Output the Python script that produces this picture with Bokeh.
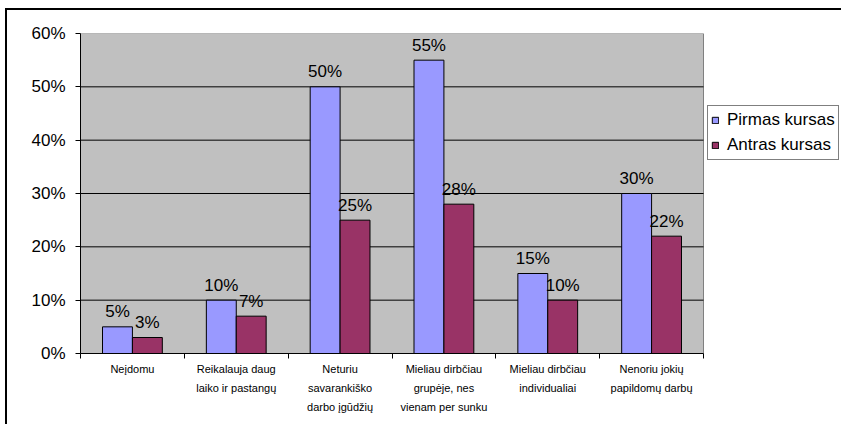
from bokeh.plotting import figure
from bokeh.models import (Range1d, FixedTicker, PrintfTickFormatter, Legend, LegendItem,
                          ColumnDataSource)
from bokeh.core.properties import value
from bokeh.embed import file_html
from bokeh.resources import INLINE

categories = [
    "Neįdomu",
    "Reikalauja daug\nlaiko ir pastangų",
    "Neturiu\nsavarankiško\ndarbo įgūdžių",
    "Mieliau dirbčiau\ngrupėje, nes\nvienam per sunku",
    "Mieliau dirbčiau\nindividualiai",
    "Nenoriu jokių\npapildomų darbų",
]
pirmas = [5, 10, 50, 55, 15, 30]
antras = [3, 7, 25, 28, 10, 22]
series_names = ["Pirmas kursas", "Antras kursas"]
y_ticks = [0, 10, 20, 30, 40, 50, 60]

FONT = "Liberation Sans"
BLUE = "#9999FF"
MAROON = "#993366"
GRAY = "#C0C0C0"
BAR_W = 0.288

W, H = 841, 424
LEFT, TOP, BOTTOM = 80, 33, 71
PLOT_W = 623  # pixel width of the gray plot area

n = len(categories)
idx = list(range(n))
y0, y1 = y_ticks[0], y_ticks[-1]
src1 = ColumnDataSource(dict(x=[i + 0.5 - BAR_W / 2 for i in idx], top=pirmas,
                             lab=[f"{v}%" for v in pirmas]))
src2 = ColumnDataSource(dict(x=[i + 0.5 + BAR_W / 2 for i in idx], top=antras,
                             lab=[f"{v}%" for v in antras]))

# the frame extends to the right edge so that the legend is not clipped
x_max = n * (W - LEFT) / PLOT_W
p = figure(width=W, height=H, output_backend="svg", toolbar_location=None,
           x_range=Range1d(0, x_max), y_range=Range1d(y0, y1),
           min_border_left=LEFT, min_border_right=0, min_border_top=TOP,
           min_border_bottom=BOTTOM)

p.background_fill_color = None
p.background_fill_alpha = 0
p.border_fill_color = None
p.border_fill_alpha = 0
p.outline_line_color = None
# page background with the outer chart border (left and top edges visible)
p.styles = {
    "background-color": "white",
    "background-image": "linear-gradient(black, black), linear-gradient(black, black)",
    "background-size": "2px 100%, 100% 2px",
    "background-position": "5px 8px, 5px 8px",
    "background-repeat": "no-repeat",
}

# gray plot area
p.quad(left=[0], right=[n], bottom=[y0], top=[y1], fill_color=GRAY,
       line_color="#808080", line_width=1, level="image")

# grid
p.xgrid.grid_line_color = None
p.ygrid.grid_line_color = None
inner = y_ticks[1:-1]
p.segment(x0=[0] * len(inner), x1=[n] * len(inner), y0=inner, y1=inner,
          line_color="black", line_width=1, level="underlay")

# y axis
p.yaxis.ticker = FixedTicker(ticks=y_ticks)
p.yaxis.formatter = PrintfTickFormatter(format="%d%%")
p.yaxis.axis_line_color = "black"
p.yaxis.major_tick_line_color = "black"
p.yaxis.major_tick_out = 5
p.yaxis.major_tick_in = 0
p.yaxis.minor_tick_line_color = None
p.yaxis.major_label_standoff = 10
p.yaxis.major_label_text_font = FONT
p.yaxis.major_label_text_font_size = "17px"
p.yaxis.major_label_text_color = "black"

# x axis
centers = [i + 0.5 for i in idx]
p.xaxis.bounds = (0, n)
p.xaxis.ticker = FixedTicker(ticks=centers, minor_ticks=list(range(n + 1)))
p.xaxis.major_label_overrides = {c: lab for c, lab in zip(centers, categories)}
p.xaxis.axis_line_color = "black"
p.xaxis.major_tick_line_color = None
p.xaxis.major_tick_out = 0
p.xaxis.major_tick_in = 0
p.xaxis.minor_tick_line_color = "black"
p.xaxis.minor_tick_out = 5
p.xaxis.minor_tick_in = 0
p.xaxis.major_label_standoff = 4
p.xaxis.major_label_text_font = FONT
p.xaxis.major_label_text_font_size = "11px"
p.xaxis.major_label_text_color = "black"
p.xaxis.major_label_text_line_height = 1.6

r1 = p.vbar(x="x", top="top", width=BAR_W, source=src1, fill_color=BLUE,
            line_color="black", line_width=1)
r2 = p.vbar(x="x", top="top", width=BAR_W, source=src2, fill_color=MAROON,
            line_color="black", line_width=1)

for s in (src1, src2):
    p.text(x="x", y="top", text="lab", source=s, text_align="center",
           text_baseline="alphabetic", y_offset=-15, text_font=value(FONT),
           text_font_size="17px", text_color="black")

legend = Legend(items=[LegendItem(label=series_names[0], renderers=[r1]),
                       LegendItem(label=series_names[1], renderers=[r2])],
                location=(PLOT_W + 4, 193), orientation="vertical")
legend.label_text_font = FONT
legend.label_text_font_size = "17px"
legend.label_text_color = "black"
legend.glyph_width = 8
legend.glyph_height = 8
legend.label_height = 22
legend.label_standoff = 8
legend.spacing = 3
legend.padding = 3
legend.margin = 0
legend.border_line_color = "black"
legend.border_line_width = 1
legend.background_fill_color = "white"
legend.background_fill_alpha = 1
p.add_layout(legend, "center")

open("out.html", "w").write(file_html(p, INLINE))
